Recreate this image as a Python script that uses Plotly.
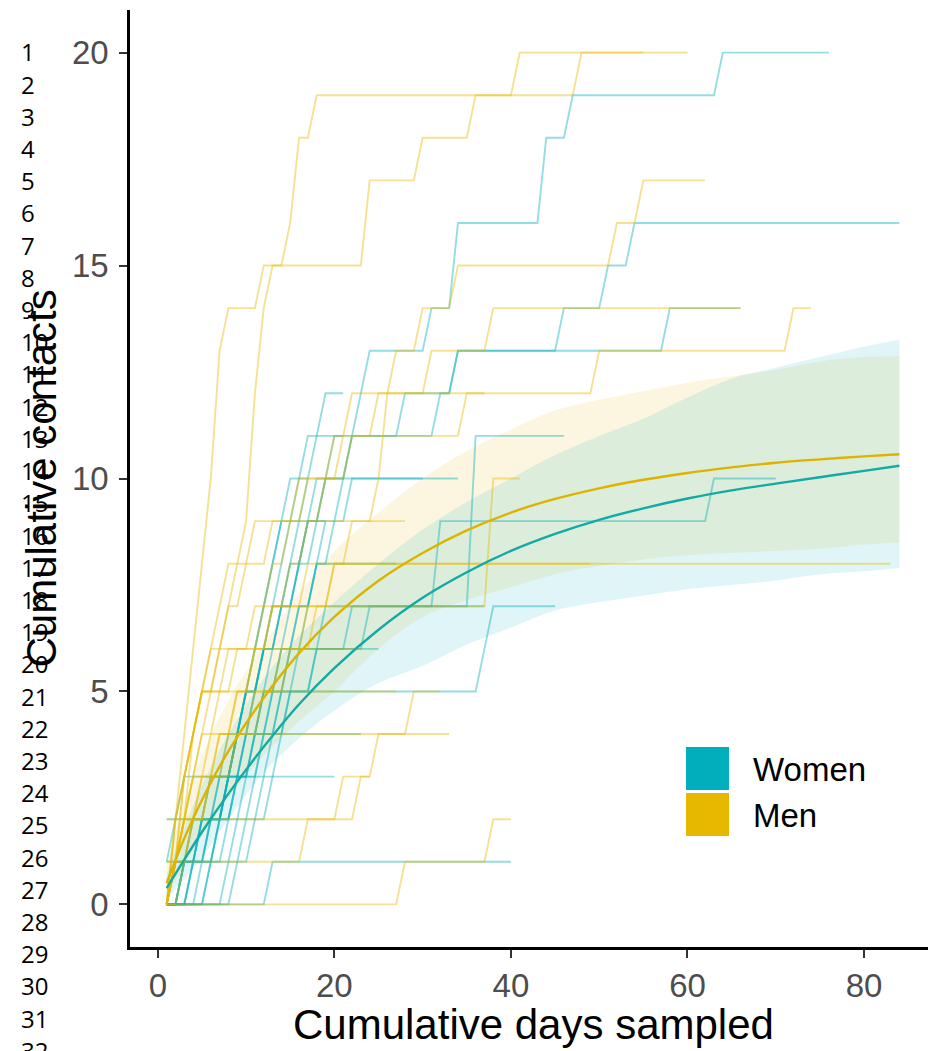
import plotly.graph_objects as go

TEAL = "#00AFBB"
GOLD = "#E7B800"

# ---------------- data ----------------
# individual trajectories: contacts on day 1, days on which new contacts were added, last day sampled
women_start = [0, 0, 0, 0, 0, 0, 0, 0, 0, 0, 1, 2, 1, 0, 0, 0, 0, 0, 0]
women_jumps = [
    [3, 5, 7, 9, 11, 12, 14, 16, 18, 19, 20, 23, 24, 31, 34, 34, 44, 44, 47, 64],
    [3, 5, 8, 10, 12, 14, 16, 18, 19, 21, 22, 32, 34, 46, 51, 54],
    [2, 4, 6, 8, 10, 12, 13, 15, 17, 19, 22, 28, 34, 58],
    [3, 5, 8, 11, 14, 18, 24, 36, 36, 36, 36],
    [3, 6, 9, 12, 15, 18, 22, 32, 32, 63],
    [4, 7, 9, 11, 13, 37, 38],
    [2, 4, 6, 9, 12, 15, 19],
    [13],
    [4, 6, 8, 9, 10, 12, 14, 16, 17, 18],
    [3, 5, 7, 9, 10, 12],
    [2, 3],
    [13, 14, 15, 16, 17, 18, 20, 22],
    [11, 12, 13, 14, 15, 16, 18],
    [4, 6, 8, 10],
    [5, 7, 8, 9, 10, 11, 12, 13, 14, 16, 17],
    [6, 8, 9, 10, 11, 12, 13, 14, 15],
    [8, 9, 10, 11, 12, 13, 14, 15, 16, 17, 18, 19],
    [6, 7, 8, 9, 10, 11, 12, 13, 14, 15],
    [9, 10, 11, 12, 13, 14, 15, 16, 17],
]
women_end = [76, 84, 66, 46, 70, 45, 37, 40, 34, 25, 20, 30, 27, 23, 21, 19, 21, 17, 19]

men_start = [0, 0, 0, 0, 0, 0, 0, 0, 0, 0, 0, 2, 0, 0, 0, 1]
men_jumps = [
    [2, 2, 3, 3, 4, 4, 5, 5, 6, 6, 7, 7, 7, 8, 12, 15, 16, 16, 18, 41],
    [2, 3, 4, 5, 6, 7, 8, 9, 10, 11, 11, 11, 12, 12, 13, 24, 24, 30, 36, 48],
    [2, 4, 6, 9, 12, 15, 18, 20, 22, 25, 26, 26, 27, 30, 34, 52, 55],
    [2, 3, 3, 4, 5, 6, 8, 10, 13, 16, 20, 22, 50, 72],
    [2, 3, 5, 7, 9, 11, 13, 15, 17, 19, 22, 25, 31, 38],
    [2, 3, 5, 7, 9, 11, 13, 17],
    [3, 4, 6, 8, 11, 14, 17, 20],
    [2, 3, 4, 6, 7, 9, 11, 13, 15, 17, 21, 35],
    [2, 2, 3, 4, 5, 6, 7, 8, 11],
    [2, 3, 3, 4, 5, 7, 12, 38, 38, 38],
    [2, 3, 4, 5],
    [23, 25, 29],
    [28, 38],
    [2, 3, 4, 4, 5],
    [2, 2, 3, 4, 5, 8],
    [17, 21],
]
men_end = [60, 55, 62, 74, 66, 83, 49, 37, 28, 41, 33, 32, 40, 27, 23, 24]

# fitted accumulation curves with uncertainty bands
fit_days = [1, 3, 5, 8, 12, 16, 20, 25, 30, 35, 40, 45, 50, 55, 60, 65, 70, 75, 80, 84]
women_fit = [0.38, 1.05, 1.7, 2.6, 3.7, 4.7, 5.55, 6.45, 7.2, 7.8, 8.3, 8.7, 9.03, 9.3, 9.53, 9.72, 9.88, 10.03, 10.18, 10.3]
women_hi = [0.7, 1.8, 2.8, 4.0, 5.3, 6.3, 7.1, 8.0, 8.8, 9.45, 10.0, 10.55, 11.0, 11.4, 11.9, 12.35, 12.6, 12.85, 13.1, 13.26]
women_lo = [0.1, 0.6, 1.1, 2.0, 3.1, 3.9, 4.55, 5.2, 5.6, 6.1, 6.5, 6.9, 7.1, 7.25, 7.4, 7.5, 7.6, 7.75, 7.82, 7.9]
men_fit = [0.5, 1.55, 2.45, 3.6, 4.85, 5.9, 6.75, 7.6, 8.25, 8.78, 9.2, 9.52, 9.77, 9.97, 10.13, 10.26, 10.37, 10.45, 10.52, 10.57]
men_hi = [0.9, 2.4, 3.5, 4.8, 6.1, 7.3, 8.3, 9.2, 10.0, 10.65, 11.15, 11.6, 11.85, 12.05, 12.25, 12.4, 12.55, 12.75, 12.85, 12.87]
men_lo = [0.2, 0.9, 1.6, 2.5, 3.5, 4.3, 5.0, 6.0, 6.75, 7.15, 7.45, 7.75, 7.95, 8.1, 8.2, 8.25, 8.3, 8.35, 8.45, 8.5]

x_ticks = [0, 20, 40, 60, 80]
y_ticks = [0, 5, 10, 15, 20]
legend_labels = ["Women", "Men"]
line_numbers = [str(i) for i in range(1, 33)]

# ---------------- figure ----------------
OFF = 8  # the page body margin offsets the figure by 8 px
W, H = 936 - OFF, 1051 - OFF
L, R, T, B = 130 - OFF, 0, 10 - OFF, 104
PW, PH = W - L - R, H - T - B


def px_x(px):  # page pixel -> paper coordinate
    return (px - OFF - L) / PW


def px_y(py):
    return (H - B - (py - OFF)) / PH


fig = go.Figure()

# ribbons
for lo, hi, col in [(men_lo, men_hi, "rgba(231,184,0,0.12)"), (women_lo, women_hi, "rgba(0,175,187,0.12)")]:
    fig.add_trace(go.Scatter(x=fit_days, y=lo, mode="lines", line=dict(width=0, shape="spline"),
                             hoverinfo="skip", showlegend=False))
    fig.add_trace(go.Scatter(x=fit_days, y=hi, mode="lines", line=dict(width=0, shape="spline"),
                             fill="tonexty", fillcolor=col, hoverinfo="skip", showlegend=False))


def daily(start, jumps, end):
    days = list(range(1, end + 1))
    counts = [start + sum(1 for j in jumps if j <= d) for d in days]
    return days, counts


for starts, jumps, ends, col in [
    (women_start, women_jumps, women_end, "rgba(0,175,187,0.42)"),
    (men_start, men_jumps, men_end, "rgba(231,184,0,0.42)"),
]:
    for s, j, e in zip(starts, jumps, ends):
        d, c = daily(s, j, e)
        fig.add_trace(go.Scatter(x=d, y=c, mode="lines", line=dict(color=col, width=1.9),
                                 hoverinfo="skip", showlegend=False))

# fitted curves
fig.add_trace(go.Scatter(x=fit_days, y=women_fit, mode="lines",
                         line=dict(color="#12AAA4", width=2.4, shape="spline"), showlegend=False))
fig.add_trace(go.Scatter(x=fit_days, y=men_fit, mode="lines",
                         line=dict(color="#DDB300", width=2.4, shape="spline"), showlegend=False))

axis_common = dict(showgrid=False, zeroline=False, showline=True, linecolor="black", linewidth=2.6,
                   ticks="outside", ticklen=8, tickwidth=2.4, tickcolor="#333333",
                   tickfont=dict(family="Liberation Sans, Arial", size=33, color="#4D4D4D"))

fig.update_layout(
    width=W, height=H,
    margin=dict(l=L, r=R, t=T, b=B),
    paper_bgcolor="white", plot_bgcolor="white",
    xaxis=dict(range=[-3.15, 88.15], tickvals=x_ticks, ticktext=[str(v) for v in x_ticks], **axis_common),
    yaxis=dict(range=[-1, 21], tickvals=y_ticks, ticktext=[str(v) for v in y_ticks],
               ticklabelstandoff=4, **axis_common),
    showlegend=False,
)

ann = []
# axis titles
ann.append(dict(text="Cumulative days sampled", xref="paper", yref="paper", x=0.5, y=px_y(1024),
                xanchor="center", yanchor="middle", showarrow=False,
                font=dict(family="Liberation Sans, Arial", size=42, color="black")))
ann.append(dict(text="Cumulative contacts", xref="paper", yref="paper", x=px_x(41), y=0.5,
                xanchor="center", yanchor="middle", textangle=-90, showarrow=False,
                font=dict(family="Liberation Sans, Arial", size=42, color="black")))
# line numbers in the left margin
for i, lab in enumerate(line_numbers):
    ann.append(dict(text=lab, xref="paper", yref="paper", x=px_x(19), y=px_y(52 + i * 32.2),
                    xanchor="left", yanchor="middle", showarrow=False,
                    font=dict(family="Open Sans, Noto Sans", size=24, color="black")))

# legend drawn manually
shapes = []
for k, (lab, col) in enumerate(zip(legend_labels, [TEAL, GOLD])):
    y0 = 747 + k * 46
    shapes.append(dict(type="rect", xref="paper", yref="paper",
                       x0=px_x(686), x1=px_x(729), y0=px_y(y0 + 43), y1=px_y(y0),
                       fillcolor=col, line=dict(width=0)))
    ann.append(dict(text=lab, xref="paper", yref="paper", x=px_x(751), y=px_y(y0 + 22),
                    xanchor="left", yanchor="middle", showarrow=False,
                    font=dict(family="Liberation Sans, Arial", size=33, color="black")))

fig.update_layout(annotations=ann, shapes=shapes)
fig.write_html("out.html")
